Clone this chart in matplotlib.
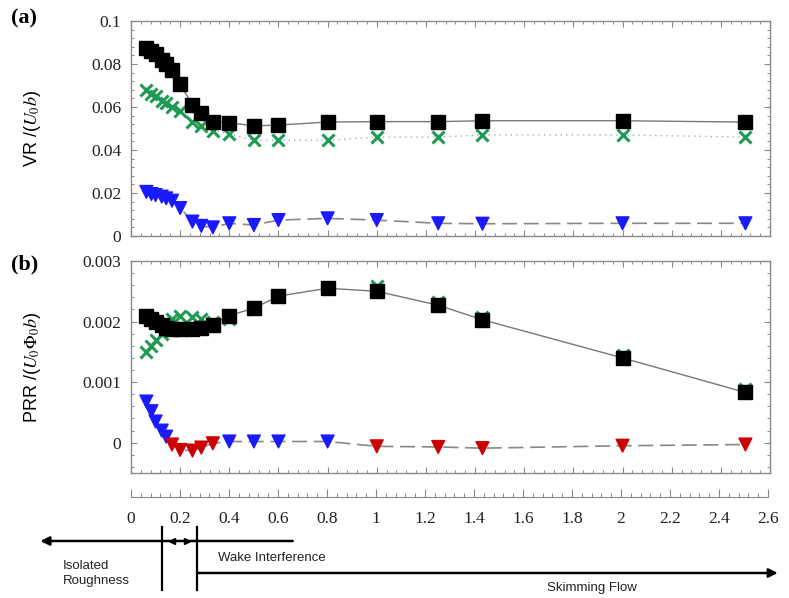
import matplotlib
matplotlib.use("Agg")
import matplotlib.pyplot as plt
from matplotlib.ticker import MultipleLocator
import numpy as np

# spacing ratio (shared by every series)
x_ratio = [0.0625, 0.083, 0.1, 0.125, 0.143, 0.167, 0.2, 0.25, 0.286, 0.333,
           0.4, 0.5, 0.6, 0.8, 1.0, 1.25, 1.43, 2.0, 2.5]

# (a) VR / (U0 b)
vr_total = [0.0875, 0.0862, 0.0845, 0.082, 0.080, 0.077, 0.0705, 0.061, 0.057, 0.0532,
            0.0527, 0.0512, 0.0516, 0.053, 0.0532, 0.0532, 0.0536, 0.0536, 0.053]
vr_mean = [0.068, 0.066, 0.065, 0.063, 0.062, 0.060, 0.058, 0.053, 0.051, 0.049,
           0.0475, 0.0445, 0.0445, 0.0445, 0.046, 0.046, 0.047, 0.047, 0.046]
vr_turb = [0.0205, 0.0195, 0.019, 0.0183, 0.0175, 0.0164, 0.013, 0.0067, 0.0047, 0.004,
           0.0059, 0.0051, 0.0074, 0.0082, 0.0074, 0.0059, 0.0057, 0.0059, 0.0059]

# (b) PRR / (U0 Phi0 b)
prr_total = [0.0021, 0.00205, 0.0020, 0.00195, 0.0019, 0.00188, 0.00187, 0.00188, 0.0019, 0.00195,
             0.0021, 0.00222, 0.00242, 0.00255, 0.0025, 0.00227, 0.00203, 0.0014, 0.00083]
prr_mean = [0.0015, 0.0016, 0.0017, 0.0018, 0.0019, 0.00205, 0.0021, 0.00208, 0.00205, 0.002,
            0.00205, 0.0022, 0.0024, 0.00255, 0.00258, 0.00232, 0.00208, 0.00145, 0.00088]
prr_turb = [0.00068, 0.00052, 0.00035, 0.0002, 0.0001, -0.00003, -0.00012, -0.00013, -0.00008, -0.00001,
            0.00002, 0.00002, 0.00002, 0.00002, -0.00006, -0.00007, -0.00009, -0.00005, -0.00003]

x_ticks = [0, 0.2, 0.4, 0.6, 0.8, 1, 1.2, 1.4, 1.6, 1.8, 2, 2.2, 2.4, 2.6]
x_tick_labels = ["0", "0.2", "0.4", "0.6", "0.8", "1", "1.2", "1.4", "1.6", "1.8",
                 "2", "2.2", "2.4", "2.6"]
regime_bounds = [0.125, 0.27]

W, H = 789, 598
serif = "Liberation Serif"
green = "#1f9a55"
blue = "#1a1aff"
red = "#cc0000"
spine_col = "#8a8a8a"
plt.rcParams["mathtext.fontset"] = "stix"


def style_axes(ax):
    for s in ax.spines.values():
        s.set_color(spine_col)
        s.set_linewidth(1.0)
    ax.tick_params(which="both", direction="in", top=True, right=True, colors=spine_col,
                   labelcolor="#222222", labelbottom=False)
    ax.tick_params(which="major", length=4.5, width=0.8, pad=7)
    ax.tick_params(which="minor", length=2.2, width=0.7)
    ax.set_xlim(0, 2.6)
    ax.xaxis.set_major_locator(MultipleLocator(0.2))
    ax.xaxis.set_minor_locator(MultipleLocator(0.04))
    for lab in ax.get_yticklabels():
        lab.set_fontfamily(serif)
        lab.set_fontsize(12.5)


def draw_triangles(ax, vals):
    vals = np.array(vals)
    xs = np.array(x_ratio)
    ax.plot(xs, vals, color="#888888", lw=1.2, dashes=(9, 4), zorder=2)
    cols = np.where(vals < 0, red, blue)
    ax.scatter(xs, vals, marker="v", s=85, c=cols, edgecolors=cols, zorder=5)


fig = plt.figure(figsize=(W / 100, H / 100), dpi=100)

ax_a = fig.add_axes([131 / W, (H - 236) / H, 639 / W, 215 / H])
ax_b = fig.add_axes([131 / W, (H - 473) / H, 639 / W, 212 / H])

# panel (a)
ax_a.plot(x_ratio, vr_mean, color="#aaaaaa", lw=1, ls=(0, (1, 3)), zorder=2)
ax_a.plot(x_ratio, vr_mean, ls="none", marker="x", ms=8, mew=2.2, color=green, zorder=3)
ax_a.plot(x_ratio, vr_total, color="#777777", lw=1, zorder=2)
ax_a.plot(x_ratio, vr_total, ls="none", marker="s", ms=9.5, color="black", zorder=4)
draw_triangles(ax_a, vr_turb)
ax_a.set_ylim(0, 0.1)
ax_a.yaxis.set_minor_locator(MultipleLocator(0.004))
ax_a.set_yticks([0, 0.02, 0.04, 0.06, 0.08, 0.1])
ax_a.set_yticklabels(["0", "0.02", "0.04", "0.06", "0.08", "0.1"])
style_axes(ax_a)

# panel (b)
ax_b.plot(x_ratio, prr_mean, ls="none", marker="x", ms=8, mew=2.2, color=green, zorder=3)
ax_b.plot(x_ratio, prr_total, color="#777777", lw=1, zorder=2)
ax_b.plot(x_ratio, prr_total, ls="none", marker="s", ms=9.5, color="black", zorder=4)
draw_triangles(ax_b, prr_turb)
ax_b.set_ylim(-0.0005, 0.003)
ax_b.yaxis.set_minor_locator(MultipleLocator(0.0002))
ax_b.set_yticks([0, 0.001, 0.002, 0.003])
ax_b.set_yticklabels(["0", "0.001", "0.002", "0.003"])
style_axes(ax_b)

# labels
ax_a.set_ylabel(r"VR /($U_0b$)", fontsize=13, fontfamily="Liberation Sans")
ax_b.set_ylabel(r"PRR /($U_0\Phi_0b$)", fontsize=13, fontfamily="Liberation Sans")
ax_a.yaxis.set_label_coords(-0.138, 0.5)
ax_b.yaxis.set_label_coords(-0.138, 0.5)
fig.text(11 / W, 1 - 18 / H, "(a)", fontsize=16, fontweight="bold", fontfamily=serif, va="center")
fig.text(11 / W, 1 - 264 / H, "(b)", fontsize=16, fontweight="bold", fontfamily=serif, va="center")

# separate x axis
ax_x = fig.add_axes([131 / W, (H - 497) / H, 637 / W, 0.0005])
for k in ["top", "left", "right"]:
    ax_x.spines[k].set_visible(False)
ax_x.spines["bottom"].set_color(spine_col)
ax_x.set_xlim(0, 2.6)
ax_x.set_yticks([])
ax_x.set_xticks(x_ticks)
ax_x.set_xticklabels(x_tick_labels, fontfamily=serif, fontsize=12.5, color="#222222")
ax_x.xaxis.set_minor_locator(MultipleLocator(0.04))
ax_x.tick_params(axis="x", which="both", direction="in", colors=spine_col, labelcolor="#222222")
ax_x.tick_params(axis="x", which="major", length=6, width=0.8, pad=10)
ax_x.tick_params(axis="x", which="minor", length=3, width=0.7)
ax_x.patch.set_visible(False)

# flow regime annotation (y in pixel rows)
ax_r = fig.add_axes([131 / W, 0, 637 / W, 73 / H])
ax_r.set_xlim(0, 2.6)
ax_r.set_ylim(598, 525)
ax_r.axis("off")
arrow_kw = dict(arrowstyle="-|>", color="black", lw=1.8, mutation_scale=13, shrinkA=0, shrinkB=0)
ax_r.annotate("", xy=(-0.37, 541), xytext=(0.66, 541), arrowprops=arrow_kw, annotation_clip=False)
ax_r.annotate("", xy=(2.64, 573), xytext=(regime_bounds[1], 573), arrowprops=arrow_kw,
              annotation_clip=False)
for b in regime_bounds:
    ax_r.plot([b, b], [527, 590], color="black", lw=1.6, clip_on=False)
ax_r.plot([0.167], [541], marker="<", ms=5, color="black", clip_on=False)
ax_r.plot([0.229], [541], marker=">", ms=5, color="black", clip_on=False)
sans = dict(fontfamily="Liberation Sans", fontsize=9.5, color="#222222")
ax_r.text(-0.28, 566, "Isolated", va="center", ha="left", **sans)
ax_r.text(-0.28, 581, "Roughness", va="center", ha="left", **sans)
ax_r.text(0.355, 558, "Wake Interference", va="center", ha="left", **sans)
ax_r.text(1.88, 588, "Skimming Flow", va="center", ha="center", **sans)

fig.savefig("out.png", dpi=100)
